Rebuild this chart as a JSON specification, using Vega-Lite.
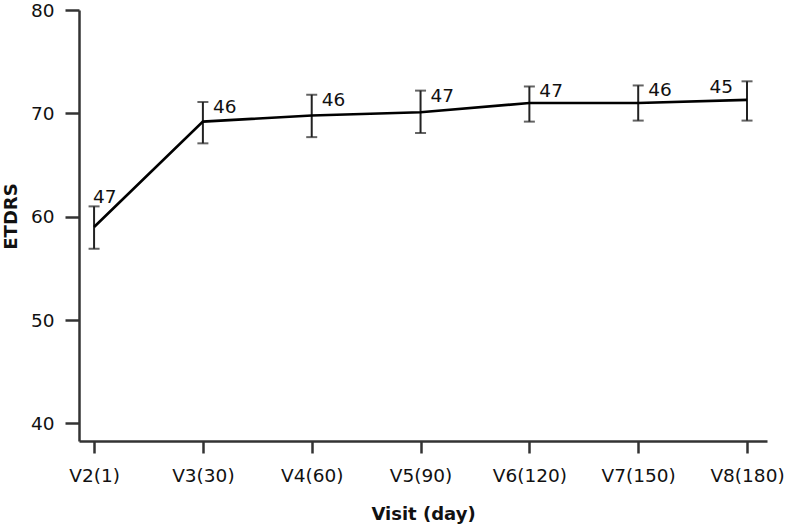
{
  "$schema": "https://vega.github.io/schema/vega-lite/v6.json",
  "autosize": "none",
  "width": 688,
  "height": 431,
  "padding": {"left": 79, "top": 10, "right": 20, "bottom": 84},
  "background": "white",
  "config": {
    "view": {"stroke": null},
    "font": "DejaVu Sans",
    "axis": {
      "grid": false,
      "domainColor": "#333333",
      "domainWidth": 2.5,
      "tickColor": "#333333",
      "tickWidth": 2.5,
      "labelFont": "DejaVu Sans",
      "labelFontSize": 18.5,
      "labelColor": "#111111",
      "titleFont": "DejaVu Sans",
      "titleFontSize": 18,
      "titleFontWeight": "bold",
      "titleColor": "#111111"
    }
  },
  "data": {
    "values": [
      {"visit": "V2(1)", "mean": 59.0, "lo": 56.9, "hi": 61.0, "n": 47},
      {"visit": "V3(30)", "mean": 69.2, "lo": 67.1, "hi": 71.1, "n": 46},
      {"visit": "V4(60)", "mean": 69.8, "lo": 67.7, "hi": 71.8, "n": 46},
      {"visit": "V5(90)", "mean": 70.1, "lo": 68.1, "hi": 72.2, "n": 47},
      {"visit": "V6(120)", "mean": 71.0, "lo": 69.2, "hi": 72.6, "n": 47},
      {"visit": "V7(150)", "mean": 71.0, "lo": 69.3, "hi": 72.7, "n": 46},
      {"visit": "V8(180)", "mean": 71.3, "lo": 69.3, "hi": 73.1, "n": 45}
    ]
  },
  "encoding": {
    "x": {
      "field": "visit",
      "type": "ordinal",
      "sort": null,
      "scale": {"type": "point", "padding": 0.161, "align": 0.43},
      "axis": {
        "title": "Visit (day)",
        "labelAngle": 0,
        "tickSize": 12,
        "labelPadding": 13,
        "titleY": 78,
        "titleBaseline": "alphabetic"
      }
    }
  },
  "layer": [
    {
      "mark": {"type": "rule", "color": "#222222", "strokeWidth": 2},
      "encoding": {
        "y": {
          "field": "lo",
          "type": "quantitative",
          "scale": {"domain": [38.3, 80], "nice": false, "zero": false},
          "axis": {
            "title": "ETDRS",
            "values": [40, 50, 60, 70, 80],
            "tickSize": 14,
            "labelPadding": 11,
            "titleX": -68,
            "titleY": 206,
            "titleAngle": -90,
            "titleAlign": "center",
            "titleBaseline": "middle"
          }
        },
        "y2": {"field": "hi"}
      }
    },
    {
      "mark": {"type": "tick", "color": "#222222", "thickness": 2, "size": 11, "orient": "horizontal"},
      "encoding": {"y": {"field": "lo", "type": "quantitative"}}
    },
    {
      "mark": {"type": "tick", "color": "#222222", "thickness": 2, "size": 11, "orient": "horizontal"},
      "encoding": {"y": {"field": "hi", "type": "quantitative"}}
    },
    {
      "mark": {"type": "line", "color": "#000000", "strokeWidth": 2.6},
      "encoding": {"y": {"field": "mean", "type": "quantitative"}}
    },
    {
      "transform": [{"filter": "datum.visit != 'V2(1)' && datum.visit != 'V8(180)'"}],
      "mark": {"type": "text", "align": "left", "baseline": "middle", "dx": 10, "dy": 5, "fontSize": 18.5, "color": "#111111"},
      "encoding": {"y": {"field": "hi", "type": "quantitative"}, "text": {"field": "n", "type": "quantitative"}}
    },
    {
      "transform": [{"filter": "datum.visit == 'V2(1)'"}],
      "mark": {"type": "text", "align": "left", "baseline": "middle", "dx": -1, "dy": -9, "fontSize": 18.5, "color": "#111111"},
      "encoding": {"y": {"field": "hi", "type": "quantitative"}, "text": {"field": "n", "type": "quantitative"}}
    },
    {
      "transform": [{"filter": "datum.visit == 'V8(180)'"}],
      "mark": {"type": "text", "align": "right", "baseline": "middle", "dx": -14, "dy": 6, "fontSize": 18.5, "color": "#111111"},
      "encoding": {"y": {"field": "hi", "type": "quantitative"}, "text": {"field": "n", "type": "quantitative"}}
    }
  ]
}
